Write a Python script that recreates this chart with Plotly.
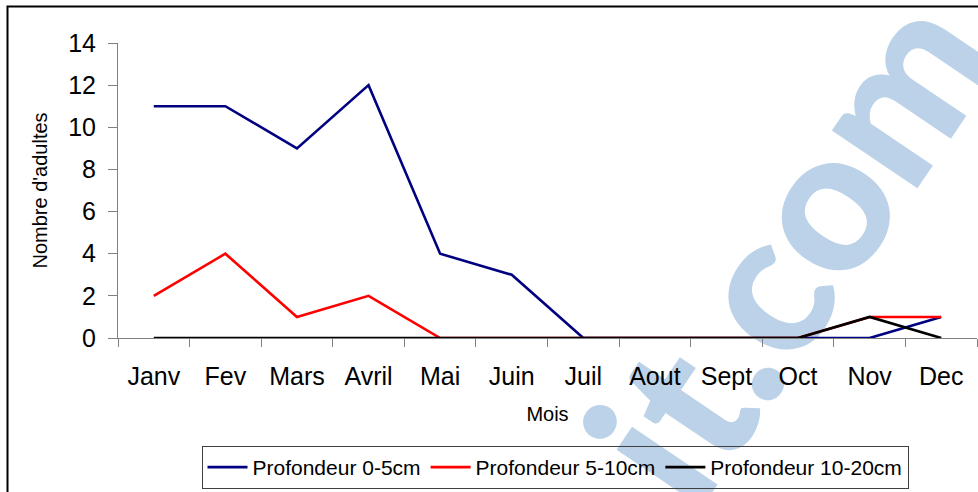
import plotly.graph_objects as go

# Monthly counts of adults by soil depth
mois = ["Janv", "Fev", "Mars", "Avril", "Mai", "Juin",
        "Juil", "Aout", "Sept", "Oct", "Nov", "Dec"]
prof_0_5 = [11, 11, 9, 12, 4, 3, 0, 0, 0, 0, 0, 1]
prof_5_10 = [2, 4, 1, 2, 0, 0, 0, 0, 0, 0, 1, 1]
prof_10_20 = [0, 0, 0, 0, 0, 0, 0, 0, 0, 0, 1, 0]

series = [
    ("Profondeur 0-5cm", prof_0_5, "#000080"),
    ("Profondeur 5-10cm", prof_5_10, "#ff0000"),
    ("Profondeur 10-20cm", prof_10_20, "#000000"),
]

W, H = 978, 492
L, R, T, B = 118, 1, 43, 154
pw, ph = W - L - R, H - T - B


def px_x(x):
    return (x - L) / pw


def px_y(y):
    return (H - B - y) / ph


fig = go.Figure()
for name, vals, color in series:
    fig.add_trace(go.Scatter(
        x=mois, y=vals, name=name, mode="lines",
        line=dict(color=color, width=2.6),
        hoverinfo="skip",
    ))

# outer frame
fig.add_shape(type="rect", xref="paper", yref="paper",
              x0=px_x(7.5), x1=px_x(1010), y0=px_y(6.5), y1=px_y(560),
              line=dict(color="black", width=2), fillcolor="rgba(0,0,0,0)",
              layer="above")

# faint site watermark behind the plot
fig.add_shape(type="rect", xref="paper", yref="paper",
              x0=px_x(779), x1=px_x(789), y0=px_y(238), y1=px_y(248),
              line=dict(width=0), fillcolor="rgba(0,0,0,0)", layer="below",
              label=dict(text="it.com", textangle=-56,
                         textposition="middle center",
                         font=dict(family="Lato", size=200,
                                   color="#bcd2e8", weight=900)))

axis_font = dict(family="Liberation Sans, Arial", size=25, color="black")
title_font = dict(family="Liberation Sans, Arial", size=20, color="black")

fig.update_layout(
    width=W, height=H,
    margin=dict(l=L, r=R, t=T, b=B, pad=0, autoexpand=False),
    paper_bgcolor="white",
    plot_bgcolor="rgba(0,0,0,0)",
    font=dict(family="Liberation Sans, Arial", color="black"),
    hovermode=False,
    showlegend=True,
    legend=dict(
        orientation="h", x=px_x(555), xanchor="center",
        y=px_y(446), yanchor="top",
        bgcolor="rgba(0,0,0,0)", bordercolor="#404040", borderwidth=1,
        font=dict(family="Liberation Sans, Arial", size=21, color="black"),
        itemwidth=40, tracegroupgap=0,
    ),
    xaxis=dict(
        type="category", range=[-0.5, 11.5],
        tickson="boundaries", ticks="outside", ticklen=8,
        tickcolor="#808080", tickwidth=1,
        showline=True, linecolor="#808080", linewidth=1,
        showgrid=False, zeroline=False, automargin=False,
        tickfont=axis_font, ticklabelstandoff=16,
        title=dict(text="Mois", font=title_font, standoff=17),
    ),
    yaxis=dict(
        range=[0, 14], tickvals=[0, 2, 4, 6, 8, 10, 12, 14],
        ticks="outside", ticklen=9, tickcolor="#808080", tickwidth=1,
        showline=True, linecolor="#808080", linewidth=1,
        showgrid=False, zeroline=False, automargin=False,
        tickfont=axis_font, ticklabelstandoff=7,
        title=dict(text="Nombre d'adultes", font=title_font, standoff=15),
    ),
)

fig.write_html("out.html")
